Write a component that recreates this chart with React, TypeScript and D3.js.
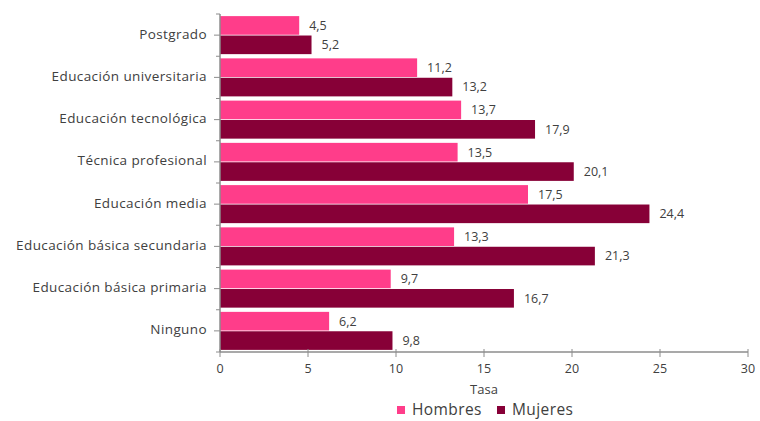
import * as d3 from "d3";

const categories = [
  "Postgrado",
  "Educación universitaria",
  "Educación tecnológica",
  "Técnica profesional",
  "Educación media",
  "Educación básica secundaria",
  "Educación básica primaria",
  "Ninguno",
];
const hombres = [4.5, 11.2, 13.7, 13.5, 17.5, 13.3, 9.7, 6.2];
const mujeres = [5.2, 13.2, 17.9, 20.1, 24.4, 21.3, 16.7, 9.8];
const xTicks = [0, 5, 10, 15, 20, 25, 30];
const seriesNames = ["Hombres", "Mujeres"];
const colors = ["#ff3d8a", "#870037"];

const W = 760;
const H = 421;
const fmt = (v: number) => v.toFixed(1).replace(".", ",");

export default function App() {
  const x = d3.scaleLinear().domain([0, 30]).range([220, 748]);
  const y = d3.scaleBand().domain(categories).range([14, 352]).paddingInner(0.1).paddingOuter(0.05);
  const band = d3.scaleBand<number>().domain([0, 1]).range([0, y.bandwidth()]).paddingInner(0.04);
  const font = "'Open Sans', 'Noto Sans', sans-serif";
  const axisColor = "#8c8c8c";
  const textColor = "#404040";
  const slot = 338 / categories.length;

  return (
    <svg width={W} height={H} style={{ position: "absolute", left: 0, top: 0 }} fontFamily={font}>
      <rect width={W} height={H} fill="#fff" />
      {categories.map((c, i) => {
        const y0 = y(c)!;
        return (
          <g key={c}>
            {[hombres[i], mujeres[i]].map((v, s) => (
              <g key={s}>
                <rect x={x(0)} y={y0 + band(s)!} width={x(v) - x(0)} height={band.bandwidth()} fill={colors[s]} />
                <text
                  x={x(v) + 10}
                  y={y0 + band(s)! + band.bandwidth() / 2 + 1}
                  dominantBaseline="middle"
                  fontSize={12.5}
                  fill={textColor}
                >
                  {fmt(v)}
                </text>
              </g>
            ))}
          </g>
        );
      })}
      {/* y axis */}
      <line x1={x(0)} x2={x(0)} y1={14} y2={352} stroke={axisColor} strokeWidth={1.5} />
      {d3.range(categories.length + 1).map((k) => (
        <line key={"b" + k} x1={x(0) - 4} x2={x(0)} y1={14 + k * slot} y2={14 + k * slot} stroke={axisColor} />
      ))}
      {categories.map((c, i) => {
        const cy = 14 + (i + 0.5) * slot;
        return (
          <g key={"l" + c}>
            <line x1={x(0) - 6} x2={x(0)} y1={cy} y2={cy} stroke={axisColor} />
            <text x={207} y={cy} textAnchor="end" dominantBaseline="middle" fontSize={13.5} letterSpacing={0.4} fill={textColor}>
              {c}
            </text>
          </g>
        );
      })}
      {/* x axis */}
      <line x1={x(0)} x2={x(30)} y1={352} y2={352} stroke={axisColor} strokeWidth={1.5} />
      {xTicks.map((t) => (
        <g key={t}>
          <line x1={x(t)} x2={x(t)} y1={349} y2={357} stroke={axisColor} />
          <text x={x(t)} y={370} textAnchor="middle" dominantBaseline="middle" fontSize={12.5} fill={textColor}>
            {t}
          </text>
        </g>
      ))}
      <text x={(x(0) + x(30)) / 2} y={391} textAnchor="middle" dominantBaseline="middle" fontSize={13} fill={textColor}>
        Tasa
      </text>
      {/* legend */}
      {seriesNames.map((n, s) => {
        const lx = s === 0 ? 397 : 497;
        return (
          <g key={n}>
            <rect x={lx} y={406} width={8} height={8} fill={colors[s]} />
            <text x={lx + 15} y={411} dominantBaseline="middle" fontSize={15.5} letterSpacing={0.4} fill={textColor}>
              {n}
            </text>
          </g>
        );
      })}
    </svg>
  );
}
